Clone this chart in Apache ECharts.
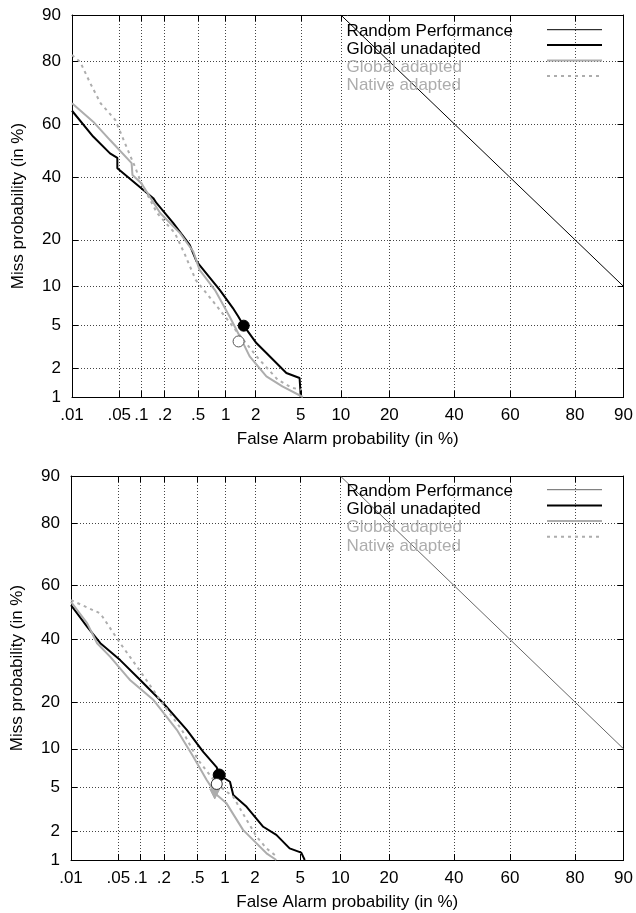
<!DOCTYPE html>
<html>
<head>
<meta charset="utf-8">
<script src="https://cdn.jsdelivr.net/npm/echarts@6/dist/echarts.min.js"></script>
<style>
html, body { margin: 0; padding: 0; background: #fff; }
#main { width: 636px; height: 913px; }
</style>
</head>
<body>
<div id="main"></div>
<script>
// tick positions (in %) and their labels
var xTicks = [0.01, 0.05, 0.1, 0.2, 0.5, 1, 2, 5, 10, 20, 40, 60, 80, 90];
var xTickLabels = ['.01', '.05', '.1', '.2', '.5', '1', '2', '5', '10', '20', '40', '60', '80', '90'];
var yTicks = [1, 2, 5, 10, 20, 40, 60, 80, 90];
var yTickLabels = ['1', '2', '5', '10', '20', '40', '60', '80', '90'];

var legendNames = ['Random Performance', 'Global unadapted', 'Global adapted', 'Native adapted'];

// random performance line
var randFA = [10, 90];
var randMiss = [90, 10];

// upper plot
var topUnadaptedFA = [0.01, 0.021, 0.037, 0.047, 0.047, 0.143, 0.158, 0.255, 0.40, 0.48, 0.87, 1.19, 1.35, 1.53, 2.03, 2.52, 3.79, 4.89, 5.0, 5.0];
var topUnadaptedMiss = [64.7, 55.3, 49.0, 47.3, 43.4, 32.7, 31.0, 24.7, 18.7, 14.8, 9.4, 6.86, 5.87, 4.92, 3.46, 2.8, 1.79, 1.59, 1.55, 1.0];
var topAdaptedFA = [0.01, 0.021, 0.037, 0.074, 0.076, 0.1, 0.175, 0.307, 0.44, 0.52, 0.77, 1.10, 1.40, 1.75, 2.52, 3.5, 5.2];
var topAdaptedMiss = [67.3, 60.8, 54.0, 45.3, 40.9, 37.9, 27.8, 21.8, 17.05, 13.0, 9.4, 5.87, 3.97, 2.6, 1.65, 1.3, 1.0];
var topNativeFA = [0.01, 0.0134, 0.019, 0.027, 0.044, 0.060, 0.082, 0.1, 0.16, 0.267, 0.352, 0.47, 0.71, 1.05, 1.46, 2.09, 3.18, 4.2, 5.0];
var topNativeMiss = [81.7, 79.9, 73.8, 67.3, 61.4, 52.8, 44.0, 37.9, 27.8, 21.8, 16.3, 11.1, 7.96, 5.5, 3.86, 2.53, 1.53, 1.26, 1.2];
var topFilledPt = [1.53, 4.92];
var topOpenPt = [1.36, 3.58];

// lower plot
var botUnadaptedFA = [0.01, 0.0177, 0.0277, 0.053, 0.10, 0.198, 0.378, 0.583, 0.82, 0.87, 1.13, 1.22, 1.66, 2.39, 3.14, 4.09, 5.1, 5.44];
var botUnadaptedMiss = [52.7, 44.6, 38.6, 32.7, 26.2, 19.6, 13.5, 9.5, 7.27, 6.33, 5.58, 4.31, 3.39, 2.2, 1.83, 1.33, 1.2, 1.0];
var botAdaptedFA = [0.01, 0.0177, 0.0248, 0.0385, 0.066, 0.073, 0.148, 0.288, 0.45, 0.637, 0.80, 1.04, 1.53, 2.07, 2.56, 3.14];
var botAdaptedMiss = [53.9, 45.9, 38.6, 33.8, 27.3, 26.2, 20.5, 13.5, 8.76, 5.76, 4.4, 3.64, 2.05, 1.5, 1.18, 1.0];
var botNativeFA = [0.01, 0.0277, 0.053, 0.09, 0.18, 0.33, 0.51, 0.82, 1.22, 1.66, 2.07, 2.56, 3.14];
var botNativeMiss = [54.6, 49.6, 38.6, 30.5, 20.5, 13.5, 8.28, 5.35, 4.16, 2.56, 1.76, 1.33, 1.1];
var botFilledPt = [0.87, 6.33];
var botOpenPt = [0.82, 5.35];
var botTrianglePt = [0.78, 4.4];

// normal deviate (probit) scale, Acklam's approximation
function probit(p) {
	var a = [-3.969683028665376e+01, 2.209460984245205e+02, -2.759285104469687e+02, 1.383577518672690e+02, -3.066479806614716e+01, 2.506628277459239e+00];
	var b = [-5.447609879822406e+01, 1.615858368580409e+02, -1.556989798598866e+02, 6.680131188771972e+01, -1.328068155288572e+01];
	var c = [-7.784894002430293e-03, -3.223964580411365e-01, -2.400758277161838e+00, -2.549732539343734e+00, 4.374664141464968e+00, 2.938163982698783e+00];
	var d = [7.784695709041462e-03, 3.224671290700398e-01, 2.445134137142996e+00, 3.754408661907416e+00];
	var plow = 0.02425, q, r;
	if (p < plow) {
		q = Math.sqrt(-2 * Math.log(p));
		return (((((c[0] * q + c[1]) * q + c[2]) * q + c[3]) * q + c[4]) * q + c[5]) /
			((((d[0] * q + d[1]) * q + d[2]) * q + d[3]) * q + 1);
	}
	if (p <= 1 - plow) {
		q = p - 0.5; r = q * q;
		return (((((a[0] * r + a[1]) * r + a[2]) * r + a[3]) * r + a[4]) * r + a[5]) * q /
			(((((b[0] * r + b[1]) * r + b[2]) * r + b[3]) * r + b[4]) * r + 1);
	}
	q = Math.sqrt(-2 * Math.log(1 - p));
	return -(((((c[0] * q + c[1]) * q + c[2]) * q + c[3]) * q + c[4]) * q + c[5]) /
		((((d[0] * q + d[1]) * q + d[2]) * q + d[3]) * q + 1);
}
function pct(v) { return probit(v / 100); }
function pairs(fa, miss) {
	return fa.map(function (v, i) { return [pct(v), pct(miss[i])]; });
}

var xTickVals = xTicks.map(pct);
var yTickVals = yTicks.map(pct);
function labelOf(vals, labels) {
	return function (value) {
		for (var i = 0; i < vals.length; i++) {
			if (Math.abs(vals[i] - value) < 1e-6) return labels[i];
		}
		return '';
	};
}

var FONT = 'Liberation Sans, Arial, Helvetica, sans-serif';
var GRAY = '#adadad';
var gridLine = { show: true, lineStyle: { color: '#444', type: [1, 2], width: 1 } };
var frame = { show: true, onZero: false, lineStyle: { color: '#000', width: 1 } };

function xAxes(gi) {
	return [{
		type: 'value', gridIndex: gi, position: 'bottom',
		min: pct(0.01), max: pct(90),
		name: 'False Alarm probability (in %)', nameLocation: 'middle', nameGap: 34,
		nameTextStyle: { fontSize: 17, color: '#000', fontFamily: FONT },
		axisLine: frame,
		axisTick: { show: true, inside: true, length: 6, customValues: xTickVals, lineStyle: { color: '#000' } },
		axisLabel: { customValues: xTickVals, formatter: labelOf(xTickVals, xTickLabels), margin: 10,
			fontSize: 17, color: '#000', fontFamily: FONT },
		splitLine: gridLine
	}, {
		type: 'value', gridIndex: gi, position: 'top',
		min: pct(0.01), max: pct(90),
		axisLine: frame,
		axisTick: { show: true, inside: true, length: 6, customValues: xTickVals, lineStyle: { color: '#000' } },
		axisLabel: { show: false },
		splitLine: { show: false }
	}];
}
function yAxes(gi) {
	return [{
		type: 'value', gridIndex: gi, position: 'left',
		min: pct(1), max: pct(90),
		name: 'Miss probability (in %)', nameLocation: 'middle', nameGap: 45, nameRotate: 90,
		nameTextStyle: { fontSize: 17, color: '#000', fontFamily: FONT },
		axisLine: frame,
		axisTick: { show: true, inside: true, length: 6, customValues: yTickVals, lineStyle: { color: '#000' } },
		axisLabel: { customValues: yTickVals, formatter: labelOf(yTickVals, yTickLabels), margin: 11,
			fontSize: 17, color: '#000', fontFamily: FONT },
		splitLine: gridLine
	}, {
		type: 'value', gridIndex: gi, position: 'right',
		min: pct(1), max: pct(90),
		axisLine: frame,
		axisTick: { show: true, inside: true, length: 6, customValues: yTickVals, lineStyle: { color: '#000' } },
		axisLabel: { show: false },
		splitLine: { show: false }
	}];
}

function lineSeries(name, ax, data, color, width, type) {
	return {
		name: name, type: 'line', xAxisIndex: ax, yAxisIndex: ax,
		data: data, symbol: 'none', clip: true, animation: false,
		lineStyle: { color: color, width: width, type: type || 'solid' },
		itemStyle: { color: color }
	};
}
function pointSeries(ax, pt, symbol, size, fill, border, rotate) {
	return {
		type: 'scatter', xAxisIndex: ax, yAxisIndex: ax, z: 5,
		data: [[pct(pt[0]), pct(pt[1])]],
		symbol: symbol, symbolSize: size, symbolRotate: rotate || 0,
		itemStyle: { color: fill, borderColor: border, borderWidth: 1, opacity: 1 }
	};
}

// gnuplot-like key: text column on the left, line samples in a column on the right
function legends(top, gap, randColor) {
	var textColors = ['#000', '#000', GRAY, GRAY];
	var icons = [
		{ color: randColor, width: 1, type: 'solid' },
		{ color: '#000', width: 2, type: 'solid' },
		{ color: GRAY, width: 2, type: 'solid' },
		{ color: GRAY, width: 2, type: [3, 4] }
	];
	return [{
		left: 336, top: top, orient: 'vertical', selectedMode: false,
		itemWidth: 0, itemHeight: 14, itemGap: gap, padding: 0,
		itemStyle: { opacity: 0 }, lineStyle: { opacity: 0 },
		textStyle: { fontSize: 17, fontFamily: FONT },
		data: legendNames.map(function (n, i) { return { name: n, textStyle: { color: textColors[i] } }; })
	}, {
		left: 546, top: top + 1.6, orient: 'vertical', selectedMode: false,
		itemWidth: 55, itemHeight: 14, itemGap: gap + 3.2, padding: 0,
		formatter: function () { return ''; },
		textStyle: { fontSize: 1, lineHeight: 1 },
		data: legendNames.map(function (n, i) {
			return { name: n, lineStyle: icons[i], itemStyle: { color: icons[i].color, opacity: 0 } };
		})
	}];
}

var myChart = echarts.init(document.getElementById('main'), null, { renderer: 'canvas' });
var option = {
	backgroundColor: '#fff',
	animation: false,
	grid: [
		{ left: 72, top: 15, width: 553, height: 382 },
		{ left: 71, top: 476, width: 554, height: 384 }
	],
	legend: legends(22.5, 1.0, '#000').concat(legends(482.5, 1.3, '#666')),
	xAxis: xAxes(0).concat(xAxes(1)),
	yAxis: yAxes(0).concat(yAxes(1)),
	series: [
		lineSeries('Random Performance', 0, pairs(randFA, randMiss), '#000', 1),
		lineSeries('Global unadapted', 0, pairs(topUnadaptedFA, topUnadaptedMiss), '#000', 2),
		lineSeries('Global adapted', 0, pairs(topAdaptedFA, topAdaptedMiss), GRAY, 2),
		lineSeries('Native adapted', 0, pairs(topNativeFA, topNativeMiss), GRAY, 2, [3, 4]),
		pointSeries(0, topFilledPt, 'circle', 11, '#000', '#000'),
		pointSeries(0, topOpenPt, 'circle', 11, '#fff', '#555'),

		lineSeries('Random Performance', 2, pairs(randFA, randMiss), '#666', 1),
		lineSeries('Global unadapted', 2, pairs(botUnadaptedFA, botUnadaptedMiss), '#000', 2),
		lineSeries('Global adapted', 2, pairs(botAdaptedFA, botAdaptedMiss), GRAY, 2),
		lineSeries('Native adapted', 2, pairs(botNativeFA, botNativeMiss), GRAY, 2, [3, 4]),
		pointSeries(2, botTrianglePt, 'triangle', 10, GRAY, GRAY, 180),
		pointSeries(2, botFilledPt, 'circle', 12, '#000', '#000'),
		pointSeries(2, botOpenPt, 'circle', 11, '#fff', '#333')
	]
};
myChart.setOption(option);
</script>
</body>
</html>
